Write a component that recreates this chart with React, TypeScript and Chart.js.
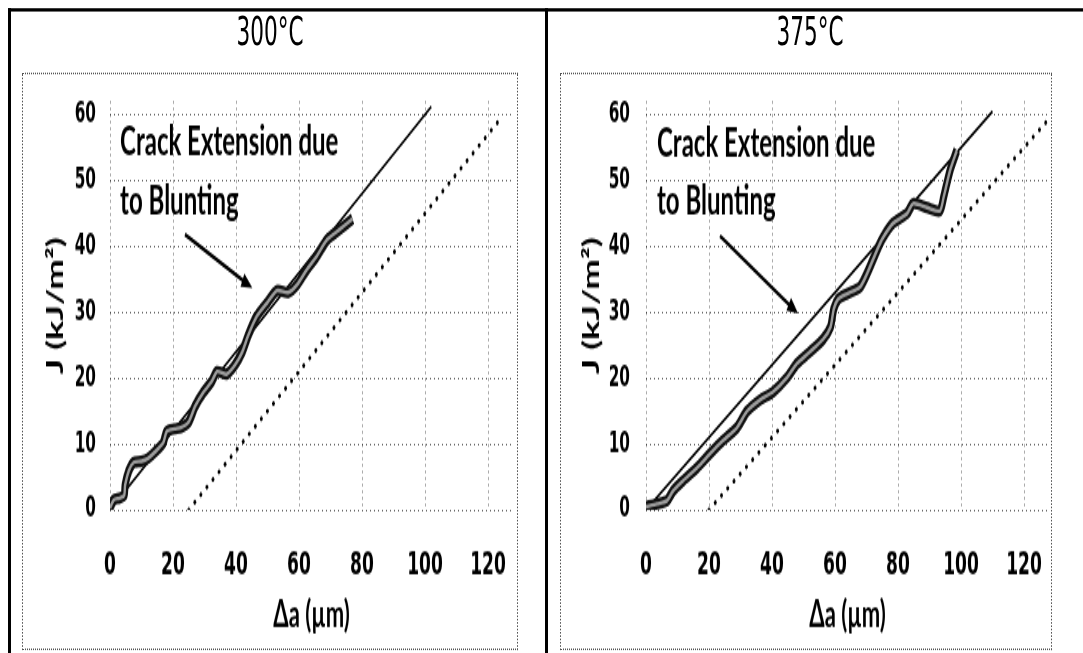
import React, { useEffect, useRef } from 'react';
import { Chart, registerables } from 'chart.js';

Chart.register(...registerables);

// The whole figure is drawn at a compact height and stretched vertically.
const S = 1.65;

// 300 °C specimen: crack extension Δa (µm) against J (kJ/m²)
const da300 = [0, 1.2, 3.0, 4.5, 4.8, 6.0, 7.5, 10.0, 12.0, 14.3, 16.9, 18.0, 20.5, 22.5, 24.9, 27.0, 29.6, 32.3, 34.0, 37.0, 39.7, 42.0, 43.8, 46.5, 50.0, 53.0, 56.5, 59.4, 62.5, 65.6, 68.9, 73.0, 77.0];
const j300 = [0.3, 1.5, 1.8, 2.2, 3.8, 6.0, 7.2, 7.4, 7.8, 8.8, 10.2, 11.9, 12.3, 12.5, 13.3, 15.7, 17.8, 19.5, 21.0, 20.6, 22.0, 24.0, 26.4, 29.3, 31.5, 33.3, 33.0, 34.2, 36.5, 38.5, 41.0, 42.6, 44.2];

// 375 °C specimen
const da375 = [0, 3.5, 6.7, 8.6, 11.7, 16.2, 20.3, 24.4, 28.9, 32.1, 36.2, 40.3, 44.8, 47.9, 51.6, 56.2, 58.6, 59.6, 61.0, 63.8, 67.9, 70.2, 73.3, 75.2, 78.4, 82.9, 84.8, 89.2, 93.3, 94.5, 96.5, 98.7];
const j375 = [0.5, 0.9, 1.4, 2.9, 4.4, 6.4, 8.5, 10.5, 12.5, 15.0, 16.7, 17.9, 20.1, 22.2, 23.8, 25.9, 27.8, 30.5, 32.0, 32.8, 33.8, 35.9, 39.4, 41.3, 43.5, 45.0, 46.5, 45.9, 45.4, 47.5, 51.5, 54.6];

// Blunting lines (solid) and their offset lines (dotted)
const blunt300X = [0, 102];
const blunt300J = [0, 61.2];
const offset300X = [25, 124.5];
const offset300J = [0, 59.7];
const blunt375X = [0, 110];
const blunt375J = [0, 60.5];
const offset375X = [20, 128];
const offset375J = [0, 59.4];

// Axis ticks
const xTicks = [0, 20, 40, 60, 80, 100, 120];
const yTicks = [0, 10, 20, 30, 40, 50, 60];

const panelTitles = ['300°C', '375°C'];
const noteLines = ['Crack Extension due', 'to Blunting'];
const xTitle = 'Δa (µm)';
const yTitle = 'J (kJ/m²)';

const LABEL_FONT = 'Lato, "Open Sans", sans-serif';
const TICK_FONT = '"Liberation Sans Narrow", "DejaVu Sans Condensed", sans-serif';
const TITLE_FONT = '"Liberation Sans Narrow", "DejaVu Sans Condensed", sans-serif';

type NoteOpts = {
  textX: number;
  textY: number[];
  arrowFrom: [number, number];
  arrowTo: [number, number];
};

// Draws the "Crack Extension due to Blunting" note with its arrow in data space.
const notePlugin = {
  id: 'bluntingNote',
  afterDatasetsDraw(chart: any, _args: any, opts: NoteOpts) {
    const { ctx } = chart;
    const xs = chart.scales.x;
    const ys = chart.scales.y;
    ctx.save();
    ctx.fillStyle = '#000';
    ctx.strokeStyle = '#000';
    ctx.font = `bold 24px ${LABEL_FONT}`;
    ctx.textBaseline = 'middle';
    ctx.textAlign = 'left';
    noteLines.forEach((t, i) => {
      ctx.fillText(t, xs.getPixelForValue(opts.textX), ys.getPixelForValue(opts.textY[i]));
    });
    const x1 = xs.getPixelForValue(opts.arrowFrom[0]);
    const y1 = ys.getPixelForValue(opts.arrowFrom[1]);
    const x2 = xs.getPixelForValue(opts.arrowTo[0]);
    const y2 = ys.getPixelForValue(opts.arrowTo[1]);
    const ang = Math.atan2(y2 - y1, x2 - x1);
    const head = 11;
    const half = 4.5;
    ctx.lineWidth = 2.4;
    ctx.beginPath();
    ctx.moveTo(x1, y1);
    ctx.lineTo(x2 - Math.cos(ang) * head * 0.8, y2 - Math.sin(ang) * head * 0.8);
    ctx.stroke();
    ctx.beginPath();
    ctx.moveTo(x2, y2);
    ctx.lineTo(x2 - Math.cos(ang) * head - Math.sin(ang) * half, y2 - Math.sin(ang) * head + Math.cos(ang) * half);
    ctx.lineTo(x2 - Math.cos(ang) * head + Math.sin(ang) * half, y2 - Math.sin(ang) * head - Math.cos(ang) * half);
    ctx.closePath();
    ctx.fill();
    ctx.restore();
  },
};

const toPts = (xs: number[], ys: number[]) => xs.map((x, i) => ({ x, y: ys[i] }));

type PanelProps = {
  left: number;
  top: number;
  width: number;
  height: number;
  axisWidth: number;
  padRight: number;
  yTitlePad: number;
  yTickGap: number;
  da: number[];
  j: number[];
  bluntX: number[];
  bluntJ: number[];
  offX: number[];
  offJ: number[];
  note: NoteOpts;
};

function Panel(p: PanelProps) {
  const ref = useRef<HTMLCanvasElement | null>(null);

  useEffect(() => {
    if (!ref.current) return;
    const gridColor = 'rgba(0,0,0,0.65)';
    const chart = new Chart(ref.current, {
      type: 'line',
      data: {
        datasets: [
          { data: toPts(p.da, p.j), borderColor: '#9c9c9c', borderWidth: 2.4, pointRadius: 0, tension: 0.25, order: 0 },
          { data: toPts(p.da, p.j), borderColor: '#111', borderWidth: 7, pointRadius: 0, tension: 0.25, order: 1 },
          { data: toPts(p.bluntX, p.bluntJ), borderColor: '#000', borderWidth: 1.7, pointRadius: 0, order: 2 },
          {
            data: toPts(p.offX, p.offJ),
            borderColor: '#000',
            borderWidth: 2.8,
            borderDash: [0.1, 7.5],
            borderCapStyle: 'round',
            pointRadius: 0,
            order: 3,
          },
        ],
      },
      options: {
        responsive: false,
        animation: false,
        events: [],
        layout: { padding: { top: 17.5, right: p.padRight, bottom: 0, left: 0 } },
        plugins: {
          legend: { display: false },
          tooltip: { enabled: false },
          bluntingNote: p.note,
        } as any,
        scales: {
          x: {
            type: 'linear',
            min: 0,
            max: 128,
            afterBuildTicks: (s: any) => {
              s.ticks = xTicks.map((v) => ({ value: v }));
            },
            afterFit: (s: any) => {
              s.height = 85;
            },
            grid: { color: gridColor, lineWidth: 1, drawTicks: true, tickLength: 20, tickColor: 'rgba(0,0,0,0)' },
            border: { display: false, dash: [1, 3] },
            ticks: {
              padding: 3,
              color: '#000',
              maxRotation: 0,
              autoSkip: false,
              font: { family: TICK_FONT, size: 19, weight: 'bold' },
            },
            title: {
              display: true,
              text: xTitle,
              color: '#000',
              font: { family: LABEL_FONT, size: 22, weight: 'bold' },
              padding: { top: 0, bottom: 8 },
            },
          },
          y: {
            type: 'linear',
            min: 0,
            max: 62,
            afterBuildTicks: (s: any) => {
              s.ticks = yTicks.map((v) => ({ value: v }));
            },
            afterFit: (s: any) => {
              s.width = p.axisWidth;
            },
            grid: { color: gridColor, lineWidth: 1, drawTicks: true, tickLength: p.yTickGap, tickColor: 'rgba(0,0,0,0)' },
            border: { display: false, dash: [1, 3] },
            ticks: {
              padding: 3,
              color: '#000',
              autoSkip: false,
              font: { family: TICK_FONT, size: 17, weight: 'bold' },
            },
            title: {
              display: true,
              text: yTitle,
              color: '#000',
              font: { family: LABEL_FONT, size: 22, weight: 'bold' },
              padding: { top: p.yTitlePad, bottom: 0 },
            },
          },
        },
      },
      plugins: [notePlugin],
    } as any);
    return () => chart.destroy();
  }, []);

  return (
    <div style={{ position: 'absolute', left: p.left, top: p.top, width: p.width, height: p.height }}>
      <canvas ref={ref} width={p.width} height={p.height} style={{ position: 'absolute', left: 0, top: 0, display: 'block' }} />
      <div
        style={{
          position: 'absolute',
          inset: 0,
          border: '1px dotted #555',
          boxSizing: 'border-box',
          pointerEvents: 'none',
        }}
      />
    </div>
  );
}

export default function App() {
  const boxTop = 72 / S;
  const boxH = 350;
  const titleStyle = (left: number): React.CSSProperties => ({
    position: 'absolute',
    left,
    top: 32 / S - 12,
    width: 496,
    height: 24,
    lineHeight: '24px',
    fontSize: 24,
    fontFamily: TITLE_FONT,
    textAlign: 'center',
    color: '#000',
  });
  const bar = (left: number, top: number, width: number, height: number): React.CSSProperties => ({
    position: 'absolute',
    left,
    top,
    width,
    height,
    background: '#000',
  });

  return (
    <div style={{ position: 'fixed', left: 0, top: 0, width: 1083, height: 653, background: '#fff', overflow: 'hidden' }}>
      <div
        style={{
          position: 'absolute',
          left: 0,
          top: 0,
          width: 1083,
          height: 653 / S,
          transform: `scaleY(${S})`,
          transformOrigin: '0 0',
        }}
      >
        <div style={bar(8, 8 / S, 1075, 3 / S)} />
        <div style={bar(8, 8 / S, 3, 653 / S)} />
        <div style={bar(545, 8 / S, 3, 653 / S)} />
        <div style={titleStyle(22)}>{panelTitles[0]}</div>
        <div style={titleStyle(562)}>{panelTitles[1]}</div>
        <Panel
          left={22}
          top={boxTop}
          width={496}
          height={boxH}
          axisWidth={88}
          padRight={4.8}
          yTitlePad={21}
          yTickGap={11}
          da={da300}
          j={j300}
          bluntX={blunt300X}
          bluntJ={blunt300J}
          offX={offset300X}
          offJ={offset300J}
          note={{ textX: 3.2, textY: [55.8, 46.7], arrowFrom: [23.8, 41.8], arrowTo: [45.2, 33.7] }}
        />
        <Panel
          left={560}
          top={boxTop}
          width={492}
          height={boxH}
          axisWidth={86}
          padRight={2.8}
          yTitlePad={19}
          yTickGap={13}
          da={da375}
          j={j375}
          bluntX={blunt375X}
          bluntJ={blunt375J}
          offX={offset375X}
          offJ={offset375J}
          note={{ textX: 3.5, textY: [55.5, 46.7], arrowFrom: [23.5, 41.6], arrowTo: [48.3, 29.8] }}
        />
      </div>
    </div>
  );
}
